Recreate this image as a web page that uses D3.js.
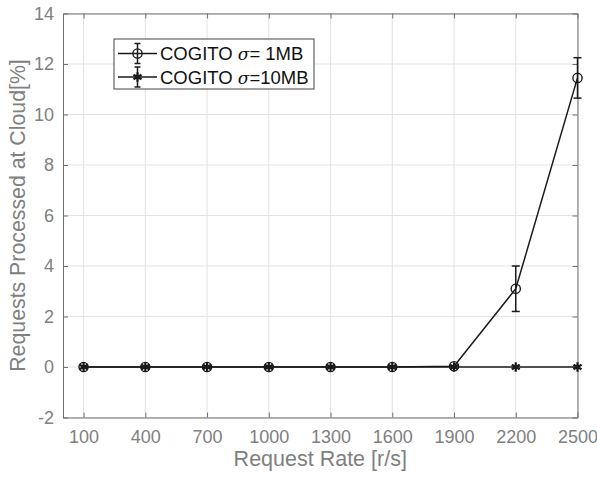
<!DOCTYPE html>
<html>
<head>
<meta charset="utf-8">
<script src="https://cdn.jsdelivr.net/npm/d3@7"></script>
<style>
  body { margin: 0; background: #fff; }
  svg { display: block; font-family: "Liberation Sans", Arial, Helvetica, sans-serif; }
</style>
</head>
<body>
<div id="chart"></div>
<script>
// Request rates and tick values
const rates = [100, 400, 700, 1000, 1300, 1600, 1900, 2200, 2500];
const xTicks = [100, 400, 700, 1000, 1300, 1600, 1900, 2200, 2500];
const yTicks = [-2, 0, 2, 4, 6, 8, 10, 12, 14];

// COGITO sigma = 1MB (mean and error)
const cogito1MB = [0, 0, 0, 0, 0, 0, 0.03, 3.1, 11.45];
const err1MB = [0, 0, 0, 0, 0, 0, 0.02, 0.9, 0.8];

// COGITO sigma = 10MB
const cogito10MB = [0, 0, 0, 0, 0, 0, 0, 0, 0];
const err10MB = [0, 0, 0, 0, 0, 0, 0, 0, 0];

const W = 597, H = 477;
const margin = { top: 13.5, right: 19.5, bottom: 59.5, left: 63 };
const width = W - margin.left - margin.right;
const height = H - margin.top - margin.bottom;

const axisColor = "#707070";
const textColor = "#808080";
const lineColor = "#1a1a1a";

const svg = d3.select("#chart").append("svg")
    .attr("width", W)
    .attr("height", H);

const g = svg.append("g")
    .attr("transform", `translate(${margin.left},${margin.top})`);

// Scales
const x = d3.scaleLinear().domain([0, 2500]).range([0, width]);
const y = d3.scaleLinear().domain([-2, 14]).range([height, 0]);

// Grid
g.append("g").selectAll("line")
    .data(xTicks)
    .enter().append("line")
    .attr("x1", d => x(d)).attr("x2", d => x(d))
    .attr("y1", 0).attr("y2", height)
    .attr("stroke", "#e3e3e3").attr("stroke-width", 1);

g.append("g").selectAll("line")
    .data(yTicks)
    .enter().append("line")
    .attr("x1", 0).attr("x2", width)
    .attr("y1", d => y(d)).attr("y2", d => y(d))
    .attr("stroke", "#e3e3e3").attr("stroke-width", 1);

// Axes (ticks inward, mirrored on top/right)
function styleAxis(sel) {
    sel.select(".domain").attr("stroke", axisColor);
    sel.selectAll(".tick line").attr("stroke", axisColor);
    sel.selectAll(".tick text")
        .attr("fill", textColor)
        .style("font-size", "18px");
}

const plain = d => String(d);

g.append("g")
    .attr("transform", `translate(0,${height})`)
    .call(d3.axisBottom(x).tickValues(xTicks).tickFormat(plain).tickSizeInner(-5).tickSizeOuter(0).tickPadding(13))
    .call(styleAxis);

g.append("g")
    .call(d3.axisLeft(y).tickValues(yTicks).tickFormat(plain).tickSizeInner(-5).tickSizeOuter(0).tickPadding(9))
    .call(styleAxis);

g.append("g")
    .call(d3.axisTop(x).tickValues(xTicks).tickSizeInner(-5).tickSizeOuter(0).tickFormat(""))
    .call(styleAxis);

g.append("g")
    .attr("transform", `translate(${width},0)`)
    .call(d3.axisRight(y).tickValues(yTicks).tickSizeInner(-5).tickSizeOuter(0).tickFormat(""))
    .call(styleAxis);

// Axis labels
g.append("text")
    .attr("x", width / 2)
    .attr("y", height + 48.5)
    .attr("text-anchor", "middle")
    .attr("fill", textColor)
    .style("font-size", "21.5px")
    .text("Request Rate [r/s]");

g.append("text")
    .attr("transform", "rotate(-90)")
    .attr("x", -height / 2)
    .attr("y", -38)
    .attr("text-anchor", "middle")
    .attr("fill", textColor)
    .style("font-size", "21.3px")
    .text("Requests Processed at Cloud[%]");

// Series
const series = [
    { name: "1MB", values: cogito1MB, errs: err1MB, marker: "circle" },
    { name: "10MB", values: cogito10MB, errs: err10MB, marker: "star" }
];

const line = d3.line()
    .x(d => x(d.rate))
    .y(d => y(d.value));

const star = d3.symbol(d3.symbolAsterisk, 60);

function drawMarker(sel, type) {
    if (type === "circle") {
        sel.append("circle")
            .attr("r", 4.6)
            .attr("fill", "none")
            .attr("stroke", lineColor)
            .attr("stroke-width", 1.4);
    } else {
        sel.append("path")
            .attr("d", star)
            .attr("fill", "none")
            .attr("stroke", lineColor)
            .attr("stroke-width", 2.2);
    }
}

series.forEach(s => {
    const pts = rates.map((r, i) => ({ rate: r, value: s.values[i], err: s.errs[i] }));

    g.append("path")
        .datum(pts)
        .attr("d", line)
        .attr("fill", "none")
        .attr("stroke", lineColor)
        .attr("stroke-width", 1.5);

    // error bars
    const eb = g.append("g").selectAll("g")
        .data(pts.filter(d => d.err > 0.05))
        .enter().append("g")
        .attr("stroke", lineColor)
        .attr("stroke-width", 1.5);
    eb.append("line")
        .attr("x1", d => x(d.rate)).attr("x2", d => x(d.rate))
        .attr("y1", d => y(d.value - d.err)).attr("y2", d => y(d.value + d.err));
    eb.append("line")
        .attr("x1", d => x(d.rate) - 4).attr("x2", d => x(d.rate) + 4)
        .attr("y1", d => y(d.value + d.err)).attr("y2", d => y(d.value + d.err));
    eb.append("line")
        .attr("x1", d => x(d.rate) - 4).attr("x2", d => x(d.rate) + 4)
        .attr("y1", d => y(d.value - d.err)).attr("y2", d => y(d.value - d.err));

    g.append("g").selectAll("g")
        .data(pts)
        .enter().append("g")
        .attr("transform", d => `translate(${x(d.rate)},${y(d.value)})`)
        .each(function() { drawMarker(d3.select(this), s.marker); });
});

// Legend
const legend = svg.append("g").attr("transform", "translate(114,39)");
legend.append("rect")
    .attr("width", 200)
    .attr("height", 50)
    .attr("fill", "#fff")
    .attr("stroke", "#444")
    .attr("stroke-width", 1);

series.forEach((s, i) => {
    const row = legend.append("g").attr("transform", `translate(0,${14.5 + i * 23.5})`);
    row.append("line")
        .attr("x1", 4).attr("x2", 43)
        .attr("stroke", lineColor).attr("stroke-width", 1.5);
    row.append("line")
        .attr("x1", 23.5).attr("x2", 23.5).attr("y1", -10).attr("y2", 10)
        .attr("stroke", lineColor).attr("stroke-width", 1.5);
    [-10, 10].forEach(dy => row.append("line")
        .attr("x1", 20.5).attr("x2", 26.5).attr("y1", dy).attr("y2", dy)
        .attr("stroke", lineColor).attr("stroke-width", 1.5));
    const m = row.append("g").attr("transform", "translate(23.5,0)");
    drawMarker(m, s.marker);

    const t = row.append("text")
        .attr("x", 46)
        .attr("y", 6.5)
        .attr("fill", "#111")
        .style("font-size", "18.5px");
    t.append("tspan").text("COGITO ");
    t.append("tspan").style("font-style", "italic").style("font-family", "'DejaVu Serif', serif").style("font-size", "17px").text("\u03c3");
    t.append("tspan").text(s.name === "1MB" ? "= 1MB" : "=10MB");
});
</script>
</body>
</html>
